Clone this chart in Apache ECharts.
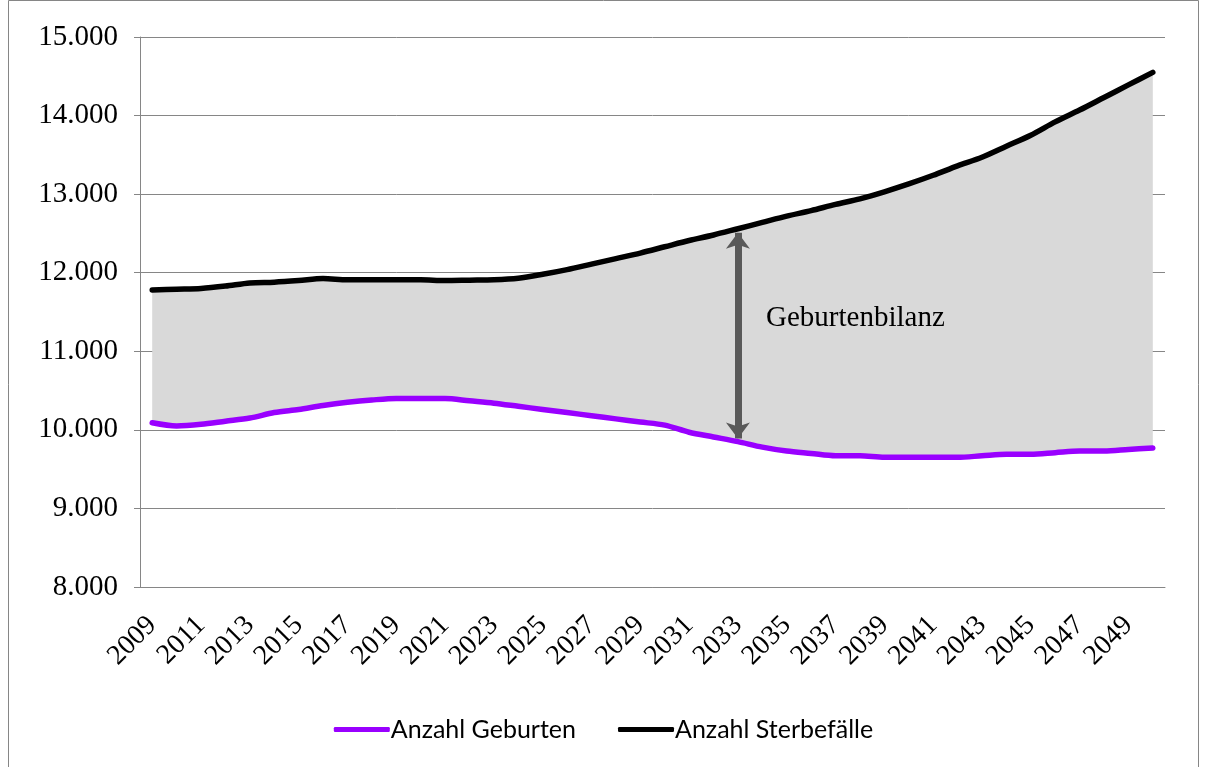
<!DOCTYPE html>
<html>
<head>
<meta charset="utf-8">
<script src="https://cdn.jsdelivr.net/npm/echarts@6/dist/echarts.min.js"></script>
<style>html,body{margin:0;padding:0;background:#fff;}#c{width:1207px;height:767px;}</style>
</head>
<body>
<div id="c"></div>
<script>
const years = [];
for (let y = 2009; y <= 2050; y++) years.push(String(y));
const births = [10090,10050,10070,10110,10150,10220,10260,10310,10350,10380,10400,10400,10400,10370,10340,10300,10260,10220,10180,10140,10100,10060,9970,9910,9850,9780,9730,9700,9670,9670,9650,9650,9650,9650,9670,9690,9690,9710,9730,9730,9750,9770];
const deaths = [11780,11790,11800,11830,11870,11880,11900,11925,11910,11910,11910,11910,11900,11905,11910,11930,11980,12040,12110,12180,12250,12330,12410,12480,12560,12640,12720,12790,12870,12940,13030,13130,13240,13360,13470,13610,13750,13920,14070,14230,14390,14550];
const yTicks = [8000, 15000, 1000];
const arrowYear = '2033';
const arrowRange = [9890, 12510];
const gap = deaths.map((d, i) => d - births[i]);

const chart = echarts.init(document.getElementById('c'));
const serif = '"Liberation Serif", "DejaVu Serif", serif';
chart.setOption({
  animation: false,
  backgroundColor: '#fff',
  grid: {left: 140, right: 42, top: 37, bottom: 180},
  graphic: [
    {type: 'rect', shape: {x: 8.5, y: 0.5, width: 1190, height: 780}, style: {fill: 'none', stroke: '#868686', lineWidth: 1}, z: 0},
    {type: 'text', left: 766, top: 304, style: {text: 'Geburtenbilanz', font: '29px "Liberation Serif", serif', fill: '#000'}, z: 10}
  ],
  legend: {
    data: ['Anzahl Geburten', 'Anzahl Sterbefälle'],
    bottom: 20, left: 'center',
    itemWidth: 56, itemHeight: 5, itemGap: 42,
    icon: 'roundRect',
    textStyle: {fontFamily: 'Lato, "Open Sans", sans-serif', fontSize: 25, color: '#000', padding: [0,0,0,-4]}
  },
  xAxis: {
    type: 'category', data: years, boundaryGap: true,
    axisLine: {lineStyle: {color: '#868686', width: 1}},
    axisTick: {interval: 0, length: 6, lineStyle: {color: '#868686'}},
    axisLabel: {interval: 1, rotate: 45, margin: 34, fontFamily: serif, fontSize: 28, color: '#000'},
    splitLine: {show: false}
  },
  yAxis: {
    type: 'value', min: yTicks[0], max: yTicks[1], interval: yTicks[2],
    axisLine: {show: true, lineStyle: {color: '#868686', width: 1}},
    axisTick: {show: true, length: 6, lineStyle: {color: '#868686'}},
    axisLabel: {margin: 22, fontFamily: serif, fontSize: 29, color: '#000',
      formatter: v => String(v).replace(/\B(?=(\d{3})+(?!\d))/g, '.')},
    splitLine: {lineStyle: {color: '#868686', width: 1}}
  },
  series: [
    {name: 'base', type: 'line', stack: 'band', data: births, symbol: 'none', smooth: 0.3,
     lineStyle: {opacity: 0}, silent: true, z: 1},
    {name: 'band', type: 'line', stack: 'band', data: gap, symbol: 'none', smooth: 0.3,
     lineStyle: {opacity: 0}, areaStyle: {color: '#d9d9d9', opacity: 1}, silent: true, z: 1,
     markLine: {
       silent: true, symbol: ['arrow', 'arrow'], symbolSize: [18, 16],
       lineStyle: {color: '#595959', width: 7, type: 'solid'},
       label: {show: false},
       data: [[{coord: [arrowYear, arrowRange[0]]}, {coord: [arrowYear, arrowRange[1]]}]]
     }},
    {name: 'Anzahl Geburten', type: 'line', data: births, symbol: 'none', smooth: 0.3,
     itemStyle: {color: '#9900ff'}, lineStyle: {color: '#9900ff', width: 5.5, cap: 'round'}, z: 5},
    {name: 'Anzahl Sterbefälle', type: 'line', data: deaths, symbol: 'none', smooth: 0.3,
     itemStyle: {color: '#000'}, lineStyle: {color: '#000', width: 5.5, cap: 'round'}, z: 5}
  ]
});
</script>
</body>
</html>
